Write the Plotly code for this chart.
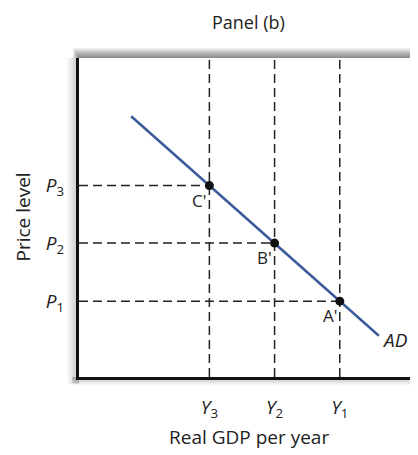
import plotly.graph_objects as go

# equilibrium points (Real GDP, price level)
point_labels = ["C'", "B'", "A'"]
gdp = [2.0, 3.0, 4.0]
price = [3.33, 2.33, 1.32]
x_ticks = ["<i>Y</i><sub>3</sub>", "<i>Y</i><sub>2</sub>", "<i>Y</i><sub>1</sub>"]
y_ticks = ["<i>P</i><sub>3</sub>", "<i>P</i><sub>2</sub>", "<i>P</i><sub>1</sub>"]

# aggregate demand curve end points
ad_x = [0.8, 4.6]
ad_y = [4.536, 0.717]

X_MAX = 5.2
Y_MAX = 5.55
FONT = "Open Sans"
DASH = "9px,5px"
PW, PH = 339, 319  # plot area size in px, for the shadow strips

fig = go.Figure()

# dashed guide lines
for x, y in zip(gdp, price):
    fig.add_trace(go.Scatter(x=[0, x], y=[y, y], mode="lines",
                             line=dict(color="#222", width=1.5, dash=DASH),
                             hoverinfo="skip", showlegend=False))
    fig.add_trace(go.Scatter(x=[x, x], y=[0, Y_MAX], mode="lines",
                             line=dict(color="#222", width=1.5, dash=DASH),
                             hoverinfo="skip", showlegend=False))

fig.add_trace(go.Scatter(x=ad_x, y=ad_y, mode="lines",
                         line=dict(color="#3a5a9a", width=2.5),
                         hoverinfo="skip", showlegend=False))

fig.add_trace(go.Scatter(x=gdp, y=price, mode="markers",
                         marker=dict(color="#111", size=9),
                         hoverinfo="skip", showlegend=False))

for lab, x, y in zip(point_labels, gdp, price):
    fig.add_annotation(x=x, y=y, text=lab, showarrow=False,
                       xanchor="right", yanchor="top", xshift=-1, yshift=-1,
                       font=dict(family=FONT, size=17, color="#222"))

fig.add_annotation(x=ad_x[1], y=ad_y[1], text="<i>AD</i>", showarrow=False,
                   xanchor="left", yanchor="middle", xshift=1, yshift=-4,
                   font=dict(family=FONT, size=19, color="#222"))

# panel drop shadow: top, left and bottom strips fading outwards
for i in range(10):
    fig.add_shape(type="rect", xref="paper", yref="paper",
                  x0=-(i + 1) / PW * 0.6, x1=1.05, y0=1, y1=1 + (i + 1) / PH,
                  fillcolor="rgba(0,0,0,0.055)", line_width=0, layer="below")
    fig.add_shape(type="rect", xref="paper", yref="paper",
                  x0=-(i + 1) / PW * 1.2, x1=0, y0=-0.02, y1=1,
                  fillcolor="rgba(0,0,0,0.025)", line_width=0, layer="below")
for i in range(8):
    fig.add_shape(type="rect", xref="paper", yref="paper",
                  x0=-0.02, x1=1.05, y0=-(i + 1) / PH, y1=0,
                  fillcolor="rgba(0,0,0,0.03)", line_width=0, layer="below")

fig.add_annotation(xref="paper", yref="paper", x=0.5, y=1, yshift=50,
                   text="Panel (b)", showarrow=False, xanchor="center", yanchor="top",
                   font=dict(family=FONT, size=18, color="#222"))
fig.add_annotation(xref="paper", yref="paper", x=0.5, y=0, yshift=-60,
                   text="Real GDP per year", showarrow=False, xanchor="center", yanchor="middle",
                   font=dict(family=FONT, size=19, color="#222"))
fig.add_annotation(xref="paper", yref="paper", x=0, y=0.5, xshift=-57,
                   text="Price level", showarrow=False, textangle=-90,
                   xanchor="center", yanchor="middle",
                   font=dict(family=FONT, size=19, color="#222"))

fig.update_xaxes(range=[0, X_MAX], showgrid=False, zeroline=False,
                 tickvals=gdp, ticktext=x_ticks, ticks="",
                 ticklabelstandoff=11,
                 showline=True, linecolor="#111", linewidth=3,
                 tickfont=dict(family=FONT, size=19, color="#222"))
fig.update_yaxes(range=[0, Y_MAX], showgrid=False, zeroline=False,
                 tickvals=price, ticktext=y_ticks, ticks="",
                 ticklabelstandoff=8,
                 showline=True, linecolor="#111", linewidth=3,
                 tickfont=dict(family=FONT, size=19, color="#222"))

# the page body adds 8px, so the figure is 8px smaller than the window
fig.update_layout(width=410, height=447,
                  margin=dict(l=71, r=0, t=50, b=78),
                  paper_bgcolor="white", plot_bgcolor="white")

fig.write_html("out.html")
